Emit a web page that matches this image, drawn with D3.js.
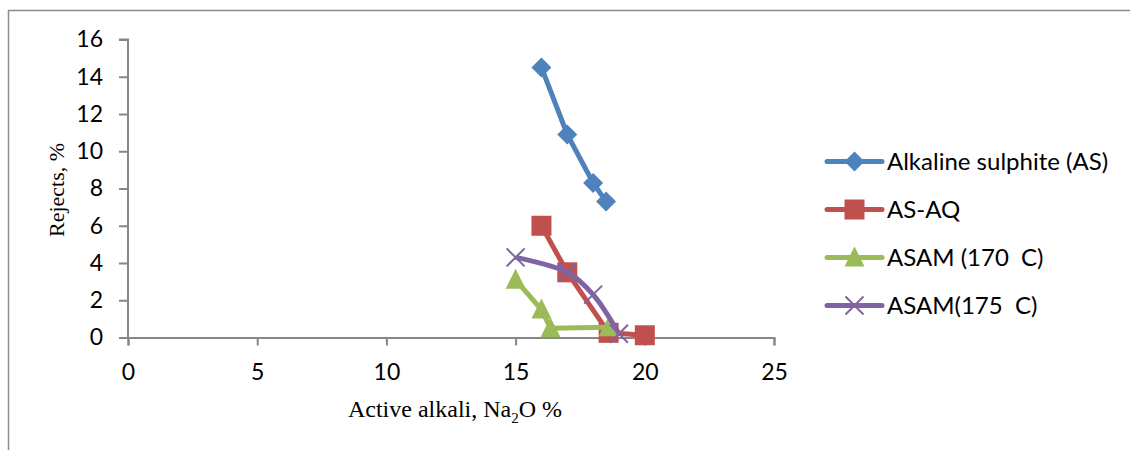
<!DOCTYPE html>
<html>
<head>
<meta charset="utf-8">
<script src="https://cdn.jsdelivr.net/npm/d3@7"></script>
<style>
  body { margin: 0; background: #fff; }
  svg { display: block; }
</style>
</head>
<body>
<div id="chart"></div>
<script>
// data
const seriesNames = ["Alkaline sulphite (AS)", "AS-AQ", "ASAM (170  C)", "ASAM(175  C)"];
const asX = [16, 17, 18, 18.5];
const asY = [14.5, 10.9, 8.3, 7.3];
const asaqX = [16, 17, 18.6, 20];
const asaqY = [6.0, 3.5, 0.25, 0.12];
const asam170X = [15, 16, 16.35, 18.6];
const asam170Y = [3.1, 1.5, 0.5, 0.55];
const asam175X = [15, 17, 18, 19];
const asam175Y = [4.3, 3.5, 2.3, 0.2];
const xTicks = [0, 5, 10, 15, 20, 25];
const yTicks = [0, 2, 4, 6, 8, 10, 12, 14, 16];

const colors = ["#4f81bd", "#c0504d", "#9bbb59", "#8064a2"];
const markers = ["diamond", "square", "triangle", "cross"];

const width = 1130;
const height = 450;

const xScale = d3.scaleLinear().domain([0, 25]).range([128, 774]);
const yScale = d3.scaleLinear().domain([0, 16]).range([337.5, 39.5]);

const svg = d3.select("#chart")
    .append("svg")
    .attr("width", width)
    .attr("height", height);

// outer frame (only left and top edges are visible in the crop)
svg.append("path")
    .attr("d", "M8.5,450 V10.5 H1130")
    .attr("fill", "none")
    .attr("stroke", "#8c8c8c")
    .attr("stroke-width", 1.5);

const tickFont = "Lato, 'Open Sans', sans-serif";

// y axis
const yAxis = svg.append("g")
    .attr("transform", "translate(128,0)")
    .call(d3.axisLeft(yScale).tickValues(yTicks).tickSize(9).tickPadding(16));
// x axis
const xAxis = svg.append("g")
    .attr("transform", "translate(0,337.5)")
    .call(d3.axisBottom(xScale).tickValues(xTicks).tickSize(8).tickPadding(18));

[xAxis, yAxis].forEach(ax => {
  ax.select(".domain").attr("stroke", "#868686").attr("stroke-width", 2);
  ax.selectAll(".tick line").attr("stroke", "#868686").attr("stroke-width", 2);
  ax.selectAll(".tick text")
      .attr("fill", "#000")
      .style("font-family", tickFont)
      .style("font-size", "23px");
});
yAxis.select(".domain").attr("d", "M-9,39.5H0V337.5");

// axis titles
svg.append("text")
    .attr("transform", "translate(64,190) rotate(-90)")
    .attr("text-anchor", "middle")
    .style("font-family", "'Liberation Serif', serif")
    .style("font-size", "22px")
    .text("Rejects, %");

const xt = svg.append("text")
    .attr("x", 455)
    .attr("y", 417)
    .attr("text-anchor", "middle")
    .style("font-family", "'Liberation Serif', serif")
    .style("font-size", "24px");
xt.append("tspan").text("Active alkali, Na");
xt.append("tspan").attr("dy", 6).style("font-size", "15px").text("2");
xt.append("tspan").attr("dy", -6).text("O %");

// series
const series = [
  { name: seriesNames[0], xs: asX, ys: asY, curve: d3.curveLinear },
  { name: seriesNames[1], xs: asaqX, ys: asaqY, curve: d3.curveLinear },
  { name: seriesNames[2], xs: asam170X, ys: asam170Y, curve: d3.curveLinear },
  { name: seriesNames[3], xs: asam175X, ys: asam175Y, curve: d3.curveCatmullRom }
];

function drawMarker(g, type, color, x, y) {
  if (type === "diamond") {
    g.append("path")
        .attr("d", `M${x},${y - 10}L${x + 10},${y}L${x},${y + 10}L${x - 10},${y}Z`)
        .attr("fill", color);
  } else if (type === "square") {
    g.append("rect")
        .attr("x", x - 10).attr("y", y - 10)
        .attr("width", 20).attr("height", 20)
        .attr("fill", color);
  } else if (type === "triangle") {
    g.append("path")
        .attr("d", `M${x},${y - 11}L${x + 10},${y + 9}L${x - 10},${y + 9}Z`)
        .attr("fill", color);
  } else {
    g.append("path")
        .attr("d", `M${x - 9},${y - 9}L${x + 9},${y + 9}M${x - 9},${y + 9}L${x + 9},${y - 9}`)
        .attr("stroke", color)
        .attr("stroke-width", 2);
  }
}

series.forEach((s, i) => {
  const pts = s.xs.map((x, j) => [x, s.ys[j]]);
  const line = d3.line()
      .x(d => xScale(d[0]))
      .y(d => yScale(d[1]))
      .curve(s.curve);
  const g = svg.append("g");
  g.append("path")
      .datum(pts)
      .attr("d", line)
      .attr("fill", "none")
      .attr("stroke", colors[i])
      .attr("stroke-width", 5)
      .attr("stroke-linejoin", "round");
  pts.forEach(p => drawMarker(g, markers[i], colors[i], xScale(p[0]), yScale(p[1])));
});

// legend
const legend = svg.append("g");
seriesNames.forEach((name, i) => {
  const y = 161.5 + i * 48;
  const g = legend.append("g");
  g.append("line")
      .attr("x1", 827).attr("x2", 882)
      .attr("y1", y).attr("y2", y)
      .attr("stroke", colors[i])
      .attr("stroke-width", 5)
      .attr("stroke-linecap", "round");
  drawMarker(g, markers[i], colors[i], 854.5, y);
  g.append("text")
      .attr("x", 887)
      .attr("y", y)
      .attr("dy", "0.36em")
      .style("font-family", tickFont)
      .style("font-size", "24px")
      .style("white-space", "pre")
      .text(name);
});
</script>
</body>
</html>
